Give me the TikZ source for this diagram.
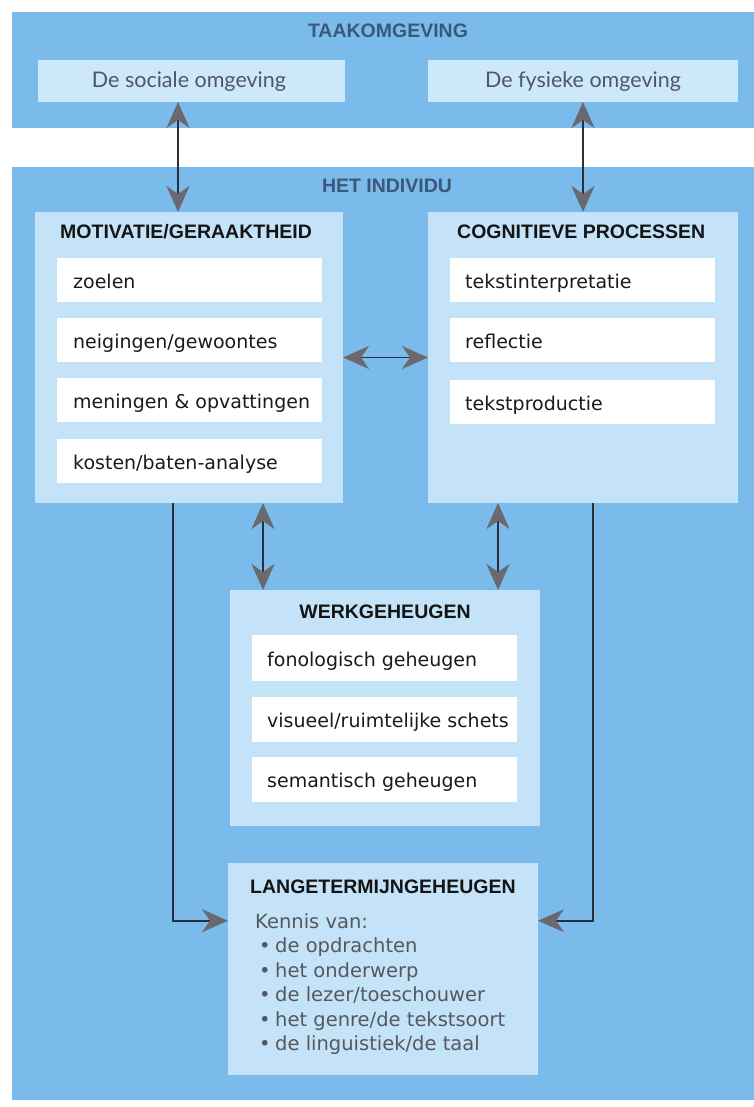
\documentclass[tikz,border=0pt]{standalone}
\usepackage{fontspec}
\setmainfont{DejaVu Sans}
\newfontfamily\headfont{Liberation Sans}
\newfontfamily\envfont{Lato}
\usetikzlibrary{arrows.meta}

\definecolor{bandblue}{HTML}{7ABBEC}
\definecolor{panelblue}{HTML}{C4E3F8}
\definecolor{envblue}{HTML}{CDE8FA}
\definecolor{zoneink}{HTML}{3B5878}
\definecolor{headink}{HTML}{141414}
\definecolor{bodyink}{HTML}{1A1A1A}
\definecolor{envink}{HTML}{4F5862}
\definecolor{greyink}{HTML}{55595E}
\definecolor{shaft}{HTML}{2A2F3A}
\definecolor{tipgray}{HTML}{6C6870}

\tikzset{
  box/.style={draw=none, anchor=north west, inner sep=0pt, outer sep=0pt},
  band/.style={box, fill=bandblue},
  panel/.style={box, fill=panelblue},
  envbox/.style={box, fill=envblue},
  slot/.style={box, fill=white, minimum height=44pt},
  zone/.style={font=\headfont\bfseries\fontsize{19.5}{22}\selectfont, text=zoneink, inner sep=0pt, anchor=base},
  head/.style={font=\headfont\bfseries\fontsize{19.5}{22}\selectfont, text=headink, inner sep=0pt, anchor=base west},
  item/.style={font=\fontsize{19}{23}\selectfont, text=bodyink, inner sep=0pt, anchor=base west},
  envtext/.style={font=\envfont\fontsize{21.5}{24}\selectfont, text=envink, inner sep=0pt, anchor=base},
  know/.style={font=\fontsize{19.5}{23}\selectfont, text=greyink, inner sep=0pt, anchor=base west},
  both/.style={line width=1.8pt, draw=shaft, {Stealth[length=26pt, width=23pt, inset=8pt, color=tipgray]}-{Stealth[length=26pt, width=23pt, inset=8pt, color=tipgray]}},
  tolong/.style={line width=1.8pt, draw=shaft, -{Stealth[length=26pt, width=23pt, inset=8pt, color=tipgray]}}
}

\begin{document}
\begin{tikzpicture}[x=1pt, y=-1pt]
\useasboundingbox[fill=white] (0,0) rectangle (754,1107);

% outer bands
\node[band, minimum width=742pt, minimum height=116pt] (taak) at (12,12) {};
\node[band, minimum width=742pt, minimum height=933pt] (indiv) at (12,167) {};
\node[zone] (taaklbl) at (388,38) {TAAKOMGEVING};
\node[zone] (indivlbl) at (387,193) {HET INDIVIDU};

% task environment
\node[envbox, minimum width=307pt, minimum height=42pt] (soc) at (38,60) {};
\node[envbox, minimum width=310pt, minimum height=42pt] (fys) at (428,60) {};
\node[envtext] (soctxt) at (189,88) {De sociale omgeving};
\node[envtext] (fystxt) at (583,88) {De fysieke omgeving};

% motivation panel
\node[panel, minimum width=308pt, minimum height=291pt] (mot) at (35,212) {};
\node[head] (mottitle) at (60,239) {MOTIVATIE/GERAAKTHEID};
\node[slot, minimum width=265pt] (m1) at (57,258) {};
\node[slot, minimum width=265pt] (m2) at (57,318) {};
\node[slot, minimum width=265pt] (m3) at (57,378) {};
\node[slot, minimum width=265pt] (m4) at (57,439) {};
\node[item] (m1t) at ([xshift=16pt, yshift=-8pt]m1.west) {zoelen};
\node[item] (m2t) at ([xshift=16pt, yshift=-8pt]m2.west) {neigingen/gewoontes};
\node[item] (m3t) at ([xshift=16pt, yshift=-8pt]m3.west) {meningen \& opvattingen};
\node[item] (m4t) at ([xshift=16pt, yshift=-8pt]m4.west) {kosten/baten-analyse};

% cognitive panel
\node[panel, minimum width=310pt, minimum height=291pt] (cog) at (428,212) {};
\node[head] (cogtitle) at (457,239) {COGNITIEVE PROCESSEN};
\node[slot, minimum width=265pt] (c1) at (450,258) {};
\node[slot, minimum width=265pt] (c2) at (450,318) {};
\node[slot, minimum width=265pt] (c3) at (450,380) {};
\node[item] (c1t) at ([xshift=15pt, yshift=-8pt]c1.west) {tekstinterpretatie};
\node[item] (c2t) at ([xshift=15pt, yshift=-8pt]c2.west) {reflectie};
\node[item] (c3t) at ([xshift=15pt, yshift=-8pt]c3.west) {tekstproductie};

% working memory panel
\node[panel, minimum width=310pt, minimum height=236pt] (werk) at (230,590) {};
\node[zone, text=headink] (werktitle) at (385,618) {WERKGEHEUGEN};
\node[slot, minimum width=265pt, minimum height=46pt] (w1) at (252,635) {};
\node[slot, minimum width=265pt, minimum height=45pt] (w2) at (252,697) {};
\node[slot, minimum width=265pt, minimum height=45pt] (w3) at (252,757) {};
\node[item] (w1t) at ([xshift=15pt, yshift=-8pt]w1.west) {fonologisch geheugen};
\node[item] (w2t) at ([xshift=15pt, yshift=-8pt]w2.west) {visueel/ruimtelijke schets};
\node[item] (w3t) at ([xshift=15pt, yshift=-8pt]w3.west) {semantisch geheugen};

% long-term memory panel
\node[panel, minimum width=310pt, minimum height=212pt] (lange) at (228,863) {};
\node[head] (langetitle) at (250,893) {LANGETERMIJNGEHEUGEN};
\node[know] (kennis) at (255,928) {Kennis van:};
\node[know] (k1) at (259,952) {\makebox[16pt][l]{\textbullet}de opdrachten};
\node[know] (k2) at (259,977) {\makebox[16pt][l]{\textbullet}het onderwerp};
\node[know] (k3) at (259,1001) {\makebox[16pt][l]{\textbullet}de lezer/toeschouwer};
\node[know] (k4) at (259,1026) {\makebox[16pt][l]{\textbullet}het genre/de tekstsoort};
\node[know] (k5) at (259,1050) {\makebox[16pt][l]{\textbullet}de linguistiek/de taal};

% connector columns
\coordinate (colA) at (178,0);
\coordinate (colB) at (263,0);
\coordinate (colC) at (498,0);
\coordinate (colL) at (173,0);
\coordinate (colR) at (593,0);

% connectors
\draw[both] (soc.south -| colA) -- (mot.north -| colA);
\draw[both] (fys.south) -- (cog.north -| fys.south);
\draw[both] (mot.east) -- (cog.west);
\draw[both] (mot.south -| colB) -- (werk.north -| colB);
\draw[both] (cog.south -| colC) -- (werk.north -| colC);
\draw[tolong] (mot.south -| colL) |- (lange.west |- kennis);
\draw[tolong] (cog.south -| colR) |- (lange.east |- kennis);
\end{tikzpicture}
\end{document}
